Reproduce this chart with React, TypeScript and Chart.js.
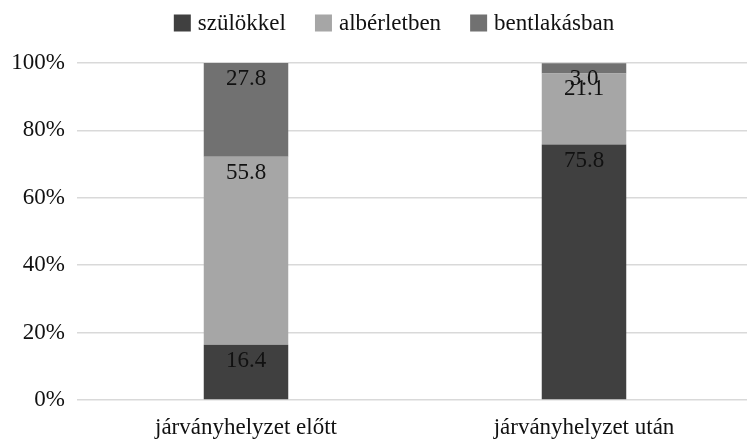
import React, { useEffect, useRef } from "react";
import { Chart, registerables } from "chart.js";

Chart.register(...registerables);

const categories = ["járványhelyzet előtt", "járványhelyzet után"];
const seriesNames = ["szülökkel", "albérletben", "bentlakásban"];
const szulokkel = [16.4, 75.8];
const alberletben = [55.8, 21.1];
const bentlakasban = [27.8, 3.0];
const seriesColors = ["#404040", "#a6a6a6", "#717171"];
const yTicks = [0, 20, 40, 60, 80, 100];

const FONT = '"Liberation Serif", "DejaVu Serif", serif';

const valueLabels = {
  id: "valueLabels",
  afterDatasetsDraw(chart: any) {
    const ctx = chart.ctx;
    ctx.save();
    ctx.font = `23px ${FONT}`;
    ctx.fillStyle = "#111";
    ctx.textAlign = "center";
    ctx.textBaseline = "middle";
    chart.data.datasets.forEach((ds: any, di: number) => {
      const meta = chart.getDatasetMeta(di);
      meta.data.forEach((bar: any, i: number) => {
        const v = ds.data[i];
        ctx.fillText(v.toFixed(1), bar.x, bar.y + 16);
      });
    });
    ctx.restore();
  },
};

const topLegend = {
  id: "topLegend",
  afterDraw(chart: any) {
    const ctx = chart.ctx;
    ctx.save();
    ctx.font = `23px ${FONT}`;
    ctx.textBaseline = "middle";
    ctx.textAlign = "left";
    const box = 17;
    const gap = 7;
    const itemGap = 29;
    const centerX = 394;
    const cy = 23;
    const items = chart.data.datasets.map((ds: any) => ({
      text: ds.label,
      color: ds.backgroundColor,
      w: box + gap + ctx.measureText(ds.label).width,
    }));
    const total =
      items.reduce((s: number, it: any) => s + it.w, 0) + itemGap * (items.length - 1);
    let x = centerX - total / 2;
    items.forEach((it: any) => {
      ctx.fillStyle = it.color;
      ctx.fillRect(x, cy - box / 2, box, box);
      ctx.fillStyle = "#111";
      ctx.fillText(it.text, x + box + gap, cy + 1);
      x += it.w + itemGap;
    });
    ctx.restore();
  },
};

export default function App() {
  const ref = useRef<HTMLCanvasElement>(null);
  useEffect(() => {
    document.body.style.margin = "0";
    let chart: Chart | null = null;
    let cancelled = false;
    const build = () => {
      if (cancelled || !ref.current) return;
      chart = new Chart(ref.current, {
        type: "bar",
        data: {
          labels: categories,
          datasets: [szulokkel, alberletben, bentlakasban].map((d, i) => ({
            label: seriesNames[i],
            data: d,
            backgroundColor: seriesColors[i],
            borderWidth: 0,
            categoryPercentage: 1,
            barPercentage: 0.25,
          })),
        },
        options: {
          responsive: false,
          animation: false,
          layout: { padding: { top: 63, left: 0, right: 7, bottom: 0 } },
          plugins: {
            legend: { display: false },
            tooltip: { enabled: false },
          },
          scales: {
            x: {
              stacked: true,
              grid: { display: false },
              border: { display: false },
              ticks: {
                color: "#111",
                font: { family: FONT, size: 23 },
                padding: 6,
                maxRotation: 0,
              },
              afterFit: (s: any) => {
                s.height = 42;
              },
            },
            y: {
              stacked: true,
              min: 0,
              max: 100,
              afterBuildTicks: (s: any) => {
                s.ticks = yTicks.map((v) => ({ value: v }));
              },
              grid: { color: "#d9d9d9", lineWidth: 1.5, drawTicks: false },
              border: { display: false },
              ticks: {
                color: "#111",
                font: { family: FONT, size: 23 },
                padding: 12,
                callback: (v: any) => `${v}%`,
              },
              afterFit: (s: any) => {
                s.width = 77;
              },
            },
          },
        },
        plugins: [valueLabels, topLegend],
      });
    };
    const fonts: any = (document as any).fonts;
    if (fonts && fonts.load) {
      fonts
        .load(`23px "Liberation Serif"`, "szülökkel 100% előtt")
        .catch(() => null)
        .then(() => build());
    } else {
      build();
    }
    return () => {
      cancelled = true;
      if (chart) chart.destroy();
    };
  }, []);
  return (
    <div
      style={{
        position: "absolute",
        left: 0,
        top: 0,
        width: 747,
        height: 442,
        overflow: "hidden",
        background: "#fff",
      }}
    >
      <canvas ref={ref} width={760} height={442} />
    </div>
  );
}
